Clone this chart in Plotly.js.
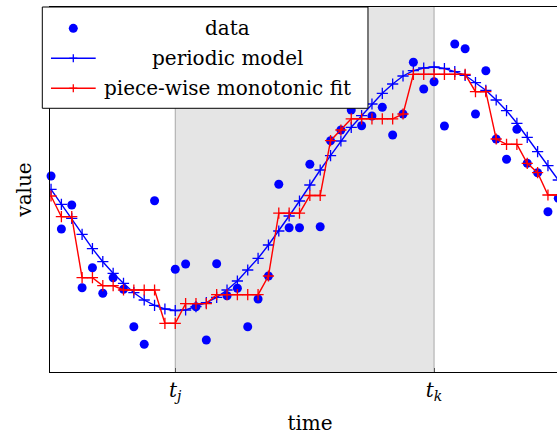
<!DOCTYPE html>
<html>
<head>
<meta charset="utf-8">
<script src="https://cdn.plot.ly/plotly-3.0.1.min.js"></script>
<style>
html, body { margin: 0; padding: 0; overflow: hidden; background: #fff; }
#chart { width: 580px; height: 435px; }
</style>
</head>
<body>
<div id="chart"></div>
<script>
// time index for each sample
const timeIdx = Array.from({length: 50}, (_, i) => i);

// observed data (arbitrary value units); sample 11 lies outside the visible window
const dataVals = [196, 143, 167, 84.3, 104.3, 78.7, 94.3, 82.7, 45.3, 27.7,
  171.3, null, 102.7, 108, 65.3, 32, 108.3, 76.3, 83.7, 45.3,
  73, 96, 187.7, 144.3, 144.3, 207.7, 145.3, 231.3, 242, 262,
  246.3, 256, 264.7, 237, 258, 309.7, 283, 290.3, 246, 328,
  323.3, 258, 301.3, 233, 212.7, 242.7, 208.7, 199.3, 160.3, 173.7];

// periodic model
const modelVals = [182.7, 167.7, 153.7, 137.7, 123.3, 110.3, 98.7, 88.7, 79.3, 72,
  66.7, 63, 61.5, 62, 65.3, 69.3, 74.7, 82, 91, 102,
  113.7, 127, 141, 156, 171, 187, 202, 216.3, 231, 244.7,
  256.3, 268, 278.7, 288, 296, 301.3, 304, 305, 303.5, 300.3,
  296.7, 289.3, 281.7, 272, 261.3, 248.7, 234.7, 220.3, 206.3, 192];

// piece-wise monotonic fit
const fitVals = [176, 155.3, 155.3, 94.3, 94.3, 86.3, 86.3, 82, 82, 82,
  82, 48.7, 48.7, 68.4, 68.4, 68.4, 77.3, 77.3, 77.3, 77.3,
  77.3, 96, 158.8, 158.8, 158.8, 176.5, 176.5, 231.3, 242, 253.2,
  253.2, 253.2, 253.2, 253.2, 258, 297.7, 297.7, 297.7, 297.7, 297.7,
  297.7, 280.3, 280.3, 233, 227.7, 227.7, 208.7, 199.3, 177, 177];

// shaded interval and tick labels
const intervalStart = 12;
const intervalEnd = 37;
const tickVals = [intervalStart, intervalEnd];
const tickText = ['<i>t</i><sub><i>j</i></sub>', '<i>t</i><sub><i>k</i></sub>'];

const legendLabels = ['data', 'periodic model', 'piece-wise monotonic fit'];

const BLUE = '#0000ff', RED = '#ff0000';
const FONT = '"DejaVu Serif", "Liberation Serif", serif';

const traces = [
  {x: timeIdx, y: dataVals, mode: 'markers', type: 'scatter', name: legendLabels[0],
   cliponaxis: false, marker: {color: BLUE, size: 9}},
  {x: timeIdx, y: modelVals, mode: 'lines+markers', type: 'scatter', name: legendLabels[1],
   line: {color: BLUE, width: 1.4},
   marker: {symbol: 'cross-thin', size: 8, color: BLUE, line: {color: BLUE, width: 1.3}}},
  {x: timeIdx, y: fitVals, mode: 'lines+markers', type: 'scatter', name: legendLabels[2],
   line: {color: RED, width: 1.4},
   marker: {symbol: 'cross-thin', size: 8, color: RED, line: {color: RED, width: 1.3}}}
];

// legend geometry (paper coords)
const lgX0 = -0.0148, lgX1 = 0.6115, lgY0 = 0.7225, lgY1 = 1.0;
const symX = 0.0448, txtX = 0.3404;
const rowY = [0.9416, 0.8595, 0.7773];

function plusShapes(color, yc) {
  return [
    {type: 'line', xref: 'paper', yref: 'paper', xsizemode: 'pixel', ysizemode: 'pixel',
     xanchor: symX, yanchor: yc, x0: -4, x1: 4, y0: 0, y1: 0, line: {color: color, width: 1.3}},
    {type: 'line', xref: 'paper', yref: 'paper', xsizemode: 'pixel', ysizemode: 'pixel',
     xanchor: symX, yanchor: yc, x0: 0, x1: 0, y0: -4, y1: 4, line: {color: color, width: 1.3}}
  ];
}

const shapes = [
  {type: 'rect', xref: 'x', yref: 'paper', x0: intervalStart, x1: intervalEnd, y0: 0, y1: 1,
   fillcolor: '#e5e5e5', line: {width: 0}, layer: 'below'},
  {type: 'line', xref: 'x', yref: 'paper', x0: intervalStart, x1: intervalStart, y0: 0, y1: 1,
   line: {color: '#a8a8a8', width: 1}, layer: 'below'},
  {type: 'line', xref: 'x', yref: 'paper', x0: intervalEnd, x1: intervalEnd, y0: 0, y1: 1,
   line: {color: '#a8a8a8', width: 1}, layer: 'below'},
  // legend box
  {type: 'rect', xref: 'paper', yref: 'paper', x0: lgX0, x1: lgX1, y0: lgY0, y1: lgY1,
   fillcolor: '#ffffff', line: {color: '#000000', width: 1}},
  // legend dot
  {type: 'circle', xref: 'paper', yref: 'paper', xsizemode: 'pixel', ysizemode: 'pixel',
   xanchor: symX, yanchor: rowY[0], x0: -4.5, x1: 4.5, y0: -4.5, y1: 4.5,
   fillcolor: BLUE, line: {color: BLUE, width: 0}},
  // legend lines
  {type: 'line', xref: 'paper', yref: 'paper', x0: 0.0019, x1: 0.0879, y0: rowY[1], y1: rowY[1],
   line: {color: BLUE, width: 1.4}},
  {type: 'line', xref: 'paper', yref: 'paper', x0: 0.0019, x1: 0.0879, y0: rowY[2], y1: rowY[2],
   line: {color: RED, width: 1.4}}
].concat(plusShapes(BLUE, rowY[1]), plusShapes(RED, rowY[2]));

const annotations = legendLabels.map((t, k) => ({
  text: t, xref: 'paper', yref: 'paper', x: txtX, y: rowY[k],
  xanchor: 'center', yanchor: 'middle', showarrow: false,
  font: {family: FONT, size: 20, color: '#000'}
}));

const layout = {
  width: 580, height: 435,
  margin: {l: 50, r: 10, t: 7, b: 63},
  paper_bgcolor: '#fff', plot_bgcolor: '#fff',
  showlegend: false,
  font: {family: FONT, size: 20, color: '#000'},
  xaxis: {
    range: [-0.1, 50.13], showgrid: false, zeroline: false,
    showline: true, linecolor: '#000', linewidth: 1, mirror: true,
    tickmode: 'array', tickvals: tickVals, ticktext: tickText,
    ticks: 'inside', ticklen: 4, tickcolor: '#555',
    tickfont: {family: FONT, size: 20, color: '#000'},
    title: {text: 'time', font: {family: FONT, size: 20, color: '#000'}, standoff: 14},
    automargin: false
  },
  yaxis: {
    range: [0, 365], showgrid: false, zeroline: false,
    showline: true, linecolor: '#000', linewidth: 1, mirror: true,
    showticklabels: false, ticks: '',
    title: {text: 'value', font: {family: FONT, size: 20, color: '#000'}, standoff: 12},
    automargin: false
  },
  shapes: shapes,
  annotations: annotations
};

Plotly.newPlot('chart', traces, layout, {displayModeBar: false, staticPlot: true});
</script>
</body>
</html>
